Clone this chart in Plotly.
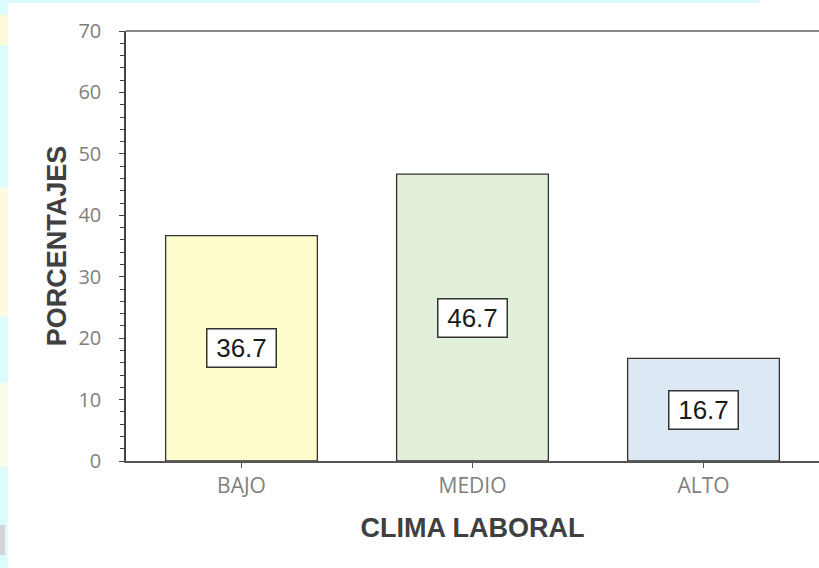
import plotly.graph_objects as go

# Survey results: work climate levels (percentages)
categories = ["BAJO", "MEDIO", "ALTO"]
percentages = [36.7, 46.7, 16.7]
bar_colors = ["#fdfccc", "#e2efda", "#dde8f5"]

y_ticks = [0, 10, 20, 30, 40, 50, 60, 70]

W, H = 819, 568
M_L, M_R, M_T, M_B = 126, 0, 31, 107
PW, PH = W - M_L - M_R, H - M_T - M_B


def px_x(px):
    return (px - M_L) / PW


def px_y(py):
    return (H - M_B - py) / PH


fig = go.Figure()
fig.add_trace(go.Bar(
    x=categories,
    y=percentages,
    width=0.657,
    marker=dict(color=bar_colors, line=dict(color="#333333", width=1.3)),
    hoverinfo="x+y",
))

# value boxes in the middle of each bar
for cat, val in zip(categories, percentages):
    fig.add_annotation(
        x=cat, y=val / 2, text=f"{val:.1f}", showarrow=False,
        font=dict(family="Liberation Sans, Arial, sans-serif", size=26, color="#1a1a1a"),
        bgcolor="white", bordercolor="#333333", borderwidth=1.5, borderpad=1,
        width=66, height=35, xanchor="center", yanchor="middle",
    )

# soft slide-background edges
edge_shapes = [
    (0, 0, 8, H, "#dcfbfd"),
    (0, 0, 760, 3, "#dcfbfd"),
    (0, 15, 8, 45, "#fdf9da"),
    (0, 187, 8, 317, "#fdfadf"),
    (0, 383, 8, 467, "#fbfbea"),
    (0, 525, 5, 555, "#d4d4d4"),
]
for x0, y0, x1, y1, col in edge_shapes:
    fig.add_shape(type="rect", xref="paper", yref="paper",
                  x0=px_x(x0), x1=px_x(x1), y0=px_y(y1), y1=px_y(y0),
                  fillcolor=col, line=dict(width=0), layer="below")

fig.update_layout(
    width=W, height=H,
    margin=dict(l=M_L, r=M_R, t=M_T, b=M_B),
    paper_bgcolor="white", plot_bgcolor="white",
    showlegend=False,
    xaxis=dict(
        range=[-0.5, 2.5],
        showline=True, linecolor="#555555", linewidth=1.5,
        mirror=False,
        ticks="outside", ticklen=5, tickcolor="#555555",
        tickfont=dict(family="Open Sans, sans-serif", size=21, color="#7f7f7f"),
        showgrid=False,
        title=dict(text="<b>CLIMA LABORAL</b>", standoff=20,
                   font=dict(family="Liberation Sans, Arial, sans-serif", size=27, color="#404040")),
    ),
    yaxis=dict(
        range=[0, 70],
        tickvals=y_ticks,
        showline=True, linecolor="#444444", linewidth=1.5,
        ticks="outside", ticklen=5, tickcolor="#444444",
        minor=dict(dtick=2, ticks="outside", ticklen=4, tickcolor="#444444"),
        ticklabelstandoff=14,
        tickfont=dict(family="Open Sans, sans-serif", size=20, color="#7f7f7f"),
        showgrid=False, zeroline=False,
        title=dict(text="<b>PORCENTAJES</b>", standoff=4,
                   font=dict(family="Liberation Sans, Arial, sans-serif", size=27, color="#404040")),
    ),
)

# top border of the plot area
fig.add_shape(type="line", xref="paper", yref="paper", x0=0, x1=1, y0=1, y1=1,
              line=dict(color="#888888", width=2))

fig.write_html("out.html")
